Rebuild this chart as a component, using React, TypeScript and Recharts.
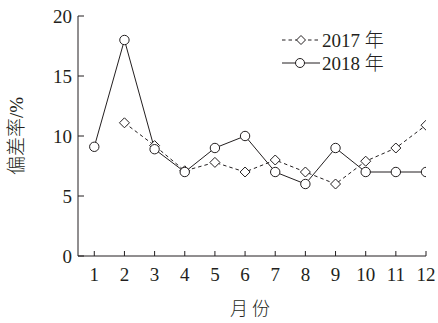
import React from 'react';
import { LineChart, Line, XAxis, YAxis, Legend, Label } from 'recharts';

const months = [1, 2, 3, 4, 5, 6, 7, 8, 9, 10, 11, 12];
const rate2017: (number | null)[] = [null, 11.1, 9.2, 7.1, 7.8, 7, 8, 7, 6, 7.9, 9, 10.9];
const rate2018 = [9.1, 18, 8.9, 7, 9, 10, 7, 6, 9, 7, 7, 7];
const yTicks = [0, 5, 10, 15, 20];
const seriesNames = ['2017 年', '2018 年'];

const data = months.map((m, i) => ({ month: m, y2017: rate2017[i], y2018: rate2018[i] }));

const INK = '#231f20';
const SERIF = '"Liberation Serif", "DejaVu Serif", serif';
const CJK = '"Liberation Serif", "Noto Sans CJK SC", serif';

const Diamond = (props: any) => {
  const { cx, cy } = props;
  if (cx == null || cy == null || props.value == null) return null;
  const r = 5;
  return (
    <path
      d={`M${cx},${cy - r}L${cx + r},${cy}L${cx},${cy + r}L${cx - r},${cy}Z`}
      fill="#fff"
      stroke={INK}
      strokeWidth={1}
    />
  );
};

const Circle = (props: any) => {
  const { cx, cy } = props;
  if (cx == null || cy == null) return null;
  return <circle cx={cx} cy={cy} r={4.7} fill="#fff" stroke={INK} strokeWidth={1} />;
};

const renderLegend = () => (
  <svg width={140} height={50} style={{ display: 'block', overflow: 'visible' }}>
    <line x1={8} y1={13} x2={46} y2={13} stroke={INK} strokeWidth={1} strokeDasharray="3.5 3" />
    <path d="M27,8.5L31.5,13L27,17.5L22.5,13Z" fill="#fff" stroke={INK} />
    <text x={48} y={13} dominantBaseline="central" fontSize={19} fontFamily={CJK} fontWeight={300} fill={INK}>
      {seriesNames[0]}
    </text>
    <line x1={8} y1={36} x2={46} y2={36} stroke={INK} strokeWidth={1} />
    <circle cx={26} cy={36} r={4.5} fill="#fff" stroke={INK} />
    <text x={48} y={36} dominantBaseline="central" fontSize={19} fontFamily={CJK} fontWeight={300} fill={INK}>
      {seriesNames[1]}
    </text>
  </svg>
);

export default function App() {
  return (
    <div style={{ width: 438, height: 323 }}>
      <style>{'body{margin:0}'}</style>
      <LineChart
        width={438}
        height={323}
        data={data}
        margin={{ top: 16, right: 12, bottom: 0, left: 0 }}
      >
        <XAxis
          dataKey="month"
          type="number"
          domain={[0.46, 12]}
          ticks={months}
          allowDataOverflow
          height={67}
          tickSize={-5}
          tickMargin={17}
          stroke={INK}
          tick={{ fill: INK, fontSize: 19, fontFamily: SERIF }}
          interval={0}
        >
          <Label
            value="月份"
            position="insideBottom"
            offset={8}
            fill={INK}
            fontSize={18}
            fontFamily={CJK}
            fontWeight={300}
            style={{ letterSpacing: 4 }}
          />
        </XAxis>
        <YAxis
          domain={[0, 20]}
          ticks={yTicks}
          width={78}
          tickSize={-6}
          tickMargin={12}
          stroke={INK}
          tick={{ fill: INK, fontSize: 19, fontFamily: SERIF }}
          interval={0}
        >
          <Label
            value="偏差率/%"
            angle={-90}
            position="insideLeft"
            offset={16}
            fill={INK}
            fontSize={19}
            fontFamily={CJK}
            fontWeight={300}
            style={{ textAnchor: 'middle' }}
          />
        </YAxis>
        <Legend
          content={renderLegend}
          layout="horizontal"
          verticalAlign="middle"
          align="center"
          wrapperStyle={{ top: 27, left: 274, width: 140, height: 50 }}
        />
        <Line
          dataKey="y2017"
          name={seriesNames[0]}
          stroke={INK}
          strokeWidth={1}
          strokeDasharray="3.5 3"
          dot={<Diamond />}
          activeDot={false}
          isAnimationActive={false}
        />
        <Line
          dataKey="y2018"
          name={seriesNames[1]}
          stroke={INK}
          strokeWidth={1}
          dot={<Circle />}
          activeDot={false}
          isAnimationActive={false}
        />
      </LineChart>
    </div>
  );
}
